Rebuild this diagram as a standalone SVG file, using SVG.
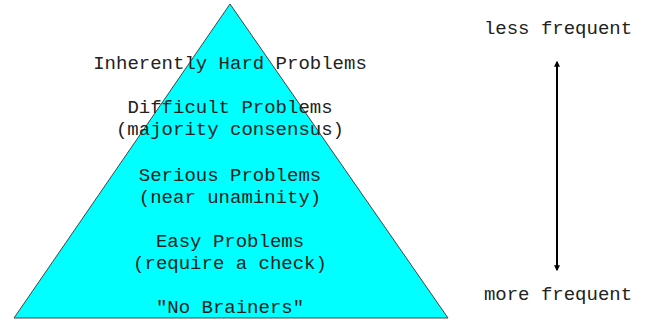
<svg xmlns="http://www.w3.org/2000/svg" width="650" height="320" viewBox="0 0 650 320">
<style>
text{font-family:"Liberation Mono","Courier New",monospace;font-size:19px;fill:#222;text-anchor:middle}
</style>
<defs>
<marker id="ah" viewBox="0 0 10 10" refX="8" refY="5" markerWidth="3" markerHeight="3" orient="auto-start-reverse">
<path d="M0,0 L10,5 L0,10 z" fill="#000"/>
</marker>
</defs>
<rect width="650" height="320" fill="#fff"/>
<g id="pyramid">
<polygon points="230,4 14,318 448,318" fill="#00ffff" stroke="#444" stroke-width="1"/>
<text x="230" y="69">Inherently Hard Problems</text>
<text x="230" y="113">Difficult Problems</text>
<text x="230" y="135">(majority consensus)</text>
<text x="230" y="181">Serious Problems</text>
<text x="230" y="203">(near unaminity)</text>
<text x="230" y="247">Easy Problems</text>
<text x="230" y="269">(require a check)</text>
<text x="230" y="313">"No Brainers"</text>
</g>
<g id="less"><text x="558" y="34">less frequent</text></g>
<g id="more"><text x="558" y="300">more frequent</text></g>
<g id="connectors">
<line x1="557" y1="62" x2="557" y2="270" stroke="#000" stroke-width="2" marker-start="url(#ah)" marker-end="url(#ah)"/>
</g>
</svg>
